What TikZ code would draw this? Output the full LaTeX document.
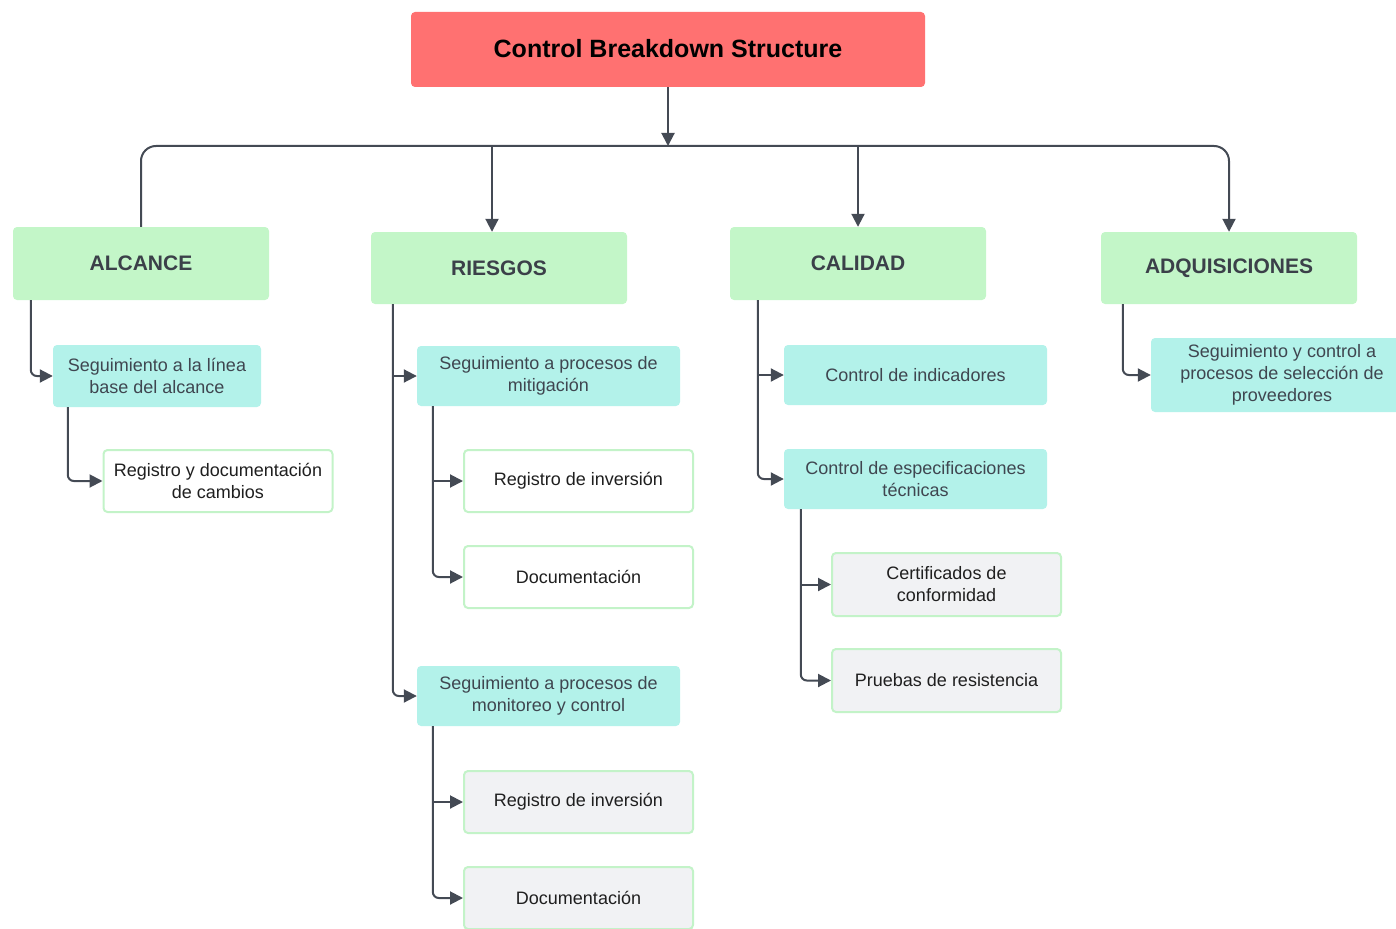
\documentclass[tikz,border=0pt]{standalone}
\usepackage{fontspec}
\setmainfont{Liberation Sans}
\usetikzlibrary{arrows.meta,calc}
\definecolor{cRed}{HTML}{FF7171}
\definecolor{cGreen}{HTML}{C3F6C8}
\definecolor{cTeal}{HTML}{B3F2EA}
\definecolor{cGray}{HTML}{F1F2F4}
\definecolor{cEdge}{HTML}{C3F3C8}
\definecolor{cLine}{HTML}{444A54}
\definecolor{cHead}{HTML}{3B4049}
\definecolor{cSub}{HTML}{3F4650}
\definecolor{cDark}{HTML}{1F1F1F}
\tikzset{
  every node/.style={inner sep=0pt, align=center},
  titlebox/.style={fill=cRed, rounded corners=4, font=\bfseries\fontsize{25}{29}\selectfont, text=black},
  headbox/.style={fill=cGreen, rounded corners=4, minimum width=256, font=\bfseries\fontsize{21}{24}\selectfont, text=cHead},
  subbox/.style={fill=cTeal, rounded corners=4, font=\fontsize{18}{22}\selectfont, text=cSub},
  leafbox/.style={fill=white, draw=cEdge, line width=2, rounded corners=4, minimum width=229, minimum height=62, font=\fontsize{18}{22}\selectfont, text=cDark},
  grayleaf/.style={leafbox, fill=cGray},
  conn/.style={draw=cLine, line width=2, -{Triangle[length=13,width=13]}},
}
\begin{document}
\begin{tikzpicture}[x=1pt,y=-1pt]
\useasboundingbox (0,0) rectangle (1396,928);
\begin{scope}
\clip (0,0) rectangle (1396,928);
% nodes
\node[titlebox, minimum width=514, minimum height=75] (title) at (668,49.5) {\raisebox{2pt}{Control Breakdown Structure}};
\node[headbox, minimum height=73] (alc) at (141,263.5) {ALCANCE};
\node[headbox, minimum height=72] (ries) at (499,268) {RIESGOS};
\node[headbox, minimum height=73] (cal) at (858,263.5) {CALIDAD};
\node[headbox, minimum height=72] (adq) at (1229,268) {ADQUISICIONES};

\node[subbox, minimum width=208, minimum height=62] (alc1) at (157,376) {Seguimiento a la línea\\base del alcance};
\node[leafbox] (alc11) at (218,481) {Registro y documentación\\de cambios};

\node[subbox, minimum width=263, minimum height=60] (mit) at (548.5,376) {Seguimiento a procesos de\\mitigación};
\node[leafbox] (mit1) at (578.5,481) {Registro de inversión};
\node[leafbox] (mit2) at (578.5,577) {Documentación};
\node[subbox, minimum width=263, minimum height=60] (mon) at (548.5,696) {Seguimiento a procesos de\\monitoreo y control};
\node[grayleaf] (mon1) at (578.5,802) {Registro de inversión};
\node[grayleaf] (mon2) at (578.5,898) {Documentación};

\node[subbox, minimum width=263, minimum height=60] (ind) at (915.5,375) {Control de indicadores};
\node[subbox, minimum width=263, minimum height=60] (esp) at (915.5,479) {Control de especificaciones\\técnicas};
\node[grayleaf, minimum height=63] (cert) at (946.5,584.5) {Certificados de\\conformidad};
\node[grayleaf, minimum height=63] (prue) at (946.5,680.5) {Pruebas de resistencia};

\node[subbox, minimum width=262, minimum height=74] (adq1) at (1282,375) {Seguimiento y control a\\procesos de selección de\\proveedores};

% top connectors
\coordinate (bus) at (668,146);
\draw[conn] (title.south) -- (bus);
\draw[conn, rounded corners=15] (alc.north) -- (alc.north |- bus) -- (adq.north |- bus) -- (adq.north);
\draw[conn] ([xshift=-7]ries.north |- bus) -- ([xshift=-7]ries.north);
\draw[conn] (cal.north |- bus) -- (cal.north);

% ALCANCE
\draw[conn, rounded corners=6] ([xshift=18]alc.south west) |- (alc1.west);
\draw[conn, rounded corners=6] ([xshift=15]alc1.south west) |- (alc11.west);

% RIESGOS
\coordinate (rx) at ([xshift=22]ries.south west);
\draw[conn, rounded corners=6] (rx) |- (mon.west);
\draw[conn] (rx |- mit.west) -- (mit.west);
\coordinate (mx) at ([xshift=16]mit.south west);
\draw[conn, rounded corners=6] (mx) |- (mit2.west);
\draw[conn] (mx |- mit1.west) -- (mit1.west);
\coordinate (nx) at ([xshift=16]mon.south west);
\draw[conn, rounded corners=6] (nx) |- (mon2.west);
\draw[conn] (nx |- mon1.west) -- (mon1.west);

% CALIDAD
\coordinate (cx) at ([xshift=28]cal.south west);
\draw[conn, rounded corners=6] (cx) |- (esp.west);
\draw[conn] (cx |- ind.west) -- (ind.west);
\coordinate (ex) at ([xshift=17]esp.south west);
\draw[conn, rounded corners=6] (ex) |- (prue.west);
\draw[conn] (ex |- cert.west) -- (cert.west);

% ADQUISICIONES
\draw[conn, rounded corners=6] ([xshift=22]adq.south west) |- (adq1.west);
\end{scope}
\end{tikzpicture}
\end{document}
